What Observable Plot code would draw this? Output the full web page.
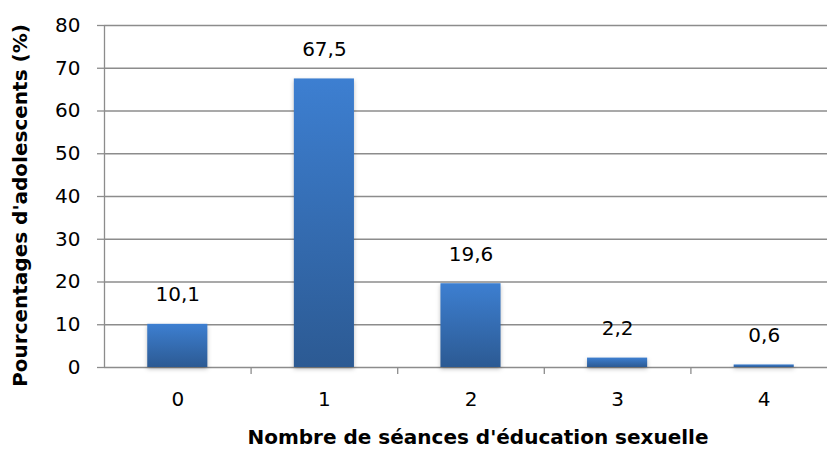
<!DOCTYPE html>
<html>
<head>
<meta charset="utf-8">
<script src="https://cdn.jsdelivr.net/npm/d3@7"></script>
<script src="https://cdn.jsdelivr.net/npm/@observablehq/plot@0.6"></script>
<style>
  html, body { margin: 0; padding: 0; background: #fff; overflow: hidden; }
  #chart svg { overflow: visible; }
  #chart g.bars rect { filter: drop-shadow(0px 2px 2px rgba(0,0,0,0.25)); }
</style>
</head>
<body>
<div id="chart"></div>
<script>
const categories = [0, 1, 2, 3, 4];
const values = [10.1, 67.5, 19.6, 2.2, 0.6];
const yTicks = [0, 10, 20, 30, 40, 50, 60, 70, 80];
const xTitle = "Nombre de séances d'éducation sexuelle";
const yTitle = "Pourcentages d'adolescents (%)";

const data = categories.map((c, i) => ({n: c, v: values[i]}));
const halfBar = 0.205;
const gridColor = "#8c8c8c";
const font = "DejaVu Sans, sans-serif";

const gradient = () => {
  const defs = d3.create("svg:defs");
  const g = defs.append("linearGradient").attr("id", "barGrad")
    .attr("x1", 0).attr("y1", 0).attr("x2", 0).attr("y2", 1);
  g.append("stop").attr("offset", "0%").attr("stop-color", "#3d7fd1");
  g.append("stop").attr("offset", "100%").attr("stop-color", "#2c5a93");
  return defs.node();
};

const chart = Plot.plot({
  width: 827,
  height: 450,
  marginLeft: 104,
  marginTop: 25,
  marginBottom: 83,
  marginRight: 0,
  style: {fontFamily: font, fontSize: "20px", color: "#000", background: "#fff"},
  x: {type: "linear", domain: [-0.5, 4.5], range: [104, 837]},
  y: {domain: [0, 80], range: [367, 25]},
  marks: [
    gradient,
    Plot.ruleY(yTicks, {stroke: gridColor, strokeWidth: 1.3, strokeOpacity: 1, x1: -0.5, x2: 4.5}),
    Plot.axisY({ticks: yTicks, tickSize: 7, tickPadding: 17, stroke: gridColor, strokeWidth: 1.3, strokeOpacity: 1, fontSize: 20, label: null}),
    Plot.ruleX([-0.5], {y1: 0, y2: 80, stroke: gridColor, strokeWidth: 1.3}),
    Plot.axisX({ticks: categories.slice(0, -1).map(c => c + 0.5), tickSize: 7, tickFormat: () => "", stroke: gridColor, strokeWidth: 1.3, strokeOpacity: 1, label: null}),
    Plot.axisX({ticks: categories, tickSize: 0, tickPadding: 24, tickFormat: d3.format("d"), fontSize: 20, label: null}),
    Plot.rectY(data, {x1: d => d.n - halfBar, x2: d => d.n + halfBar, y1: 0, y2: "v", fill: "url(#barGrad)", className: "bars"}),
    Plot.text(data, {x: "n", y: "v", text: d => String(d.v).replace(".", ","), lineAnchor: "bottom", dy: -23, fontSize: 20, fill: "#000"}),
    Plot.text([xTitle], {frameAnchor: "bottom", dy: 76, dx: 12, fontWeight: "bold", fontSize: 20, fill: "#000"}),
    Plot.text([yTitle], {frameAnchor: "left", dx: -84, dy: 9, rotate: -90, textAnchor: "middle", fontWeight: "bold", fontSize: 20, fill: "#000"})
  ]
});

document.getElementById("chart").appendChild(chart);
</script>
</body>
</html>
